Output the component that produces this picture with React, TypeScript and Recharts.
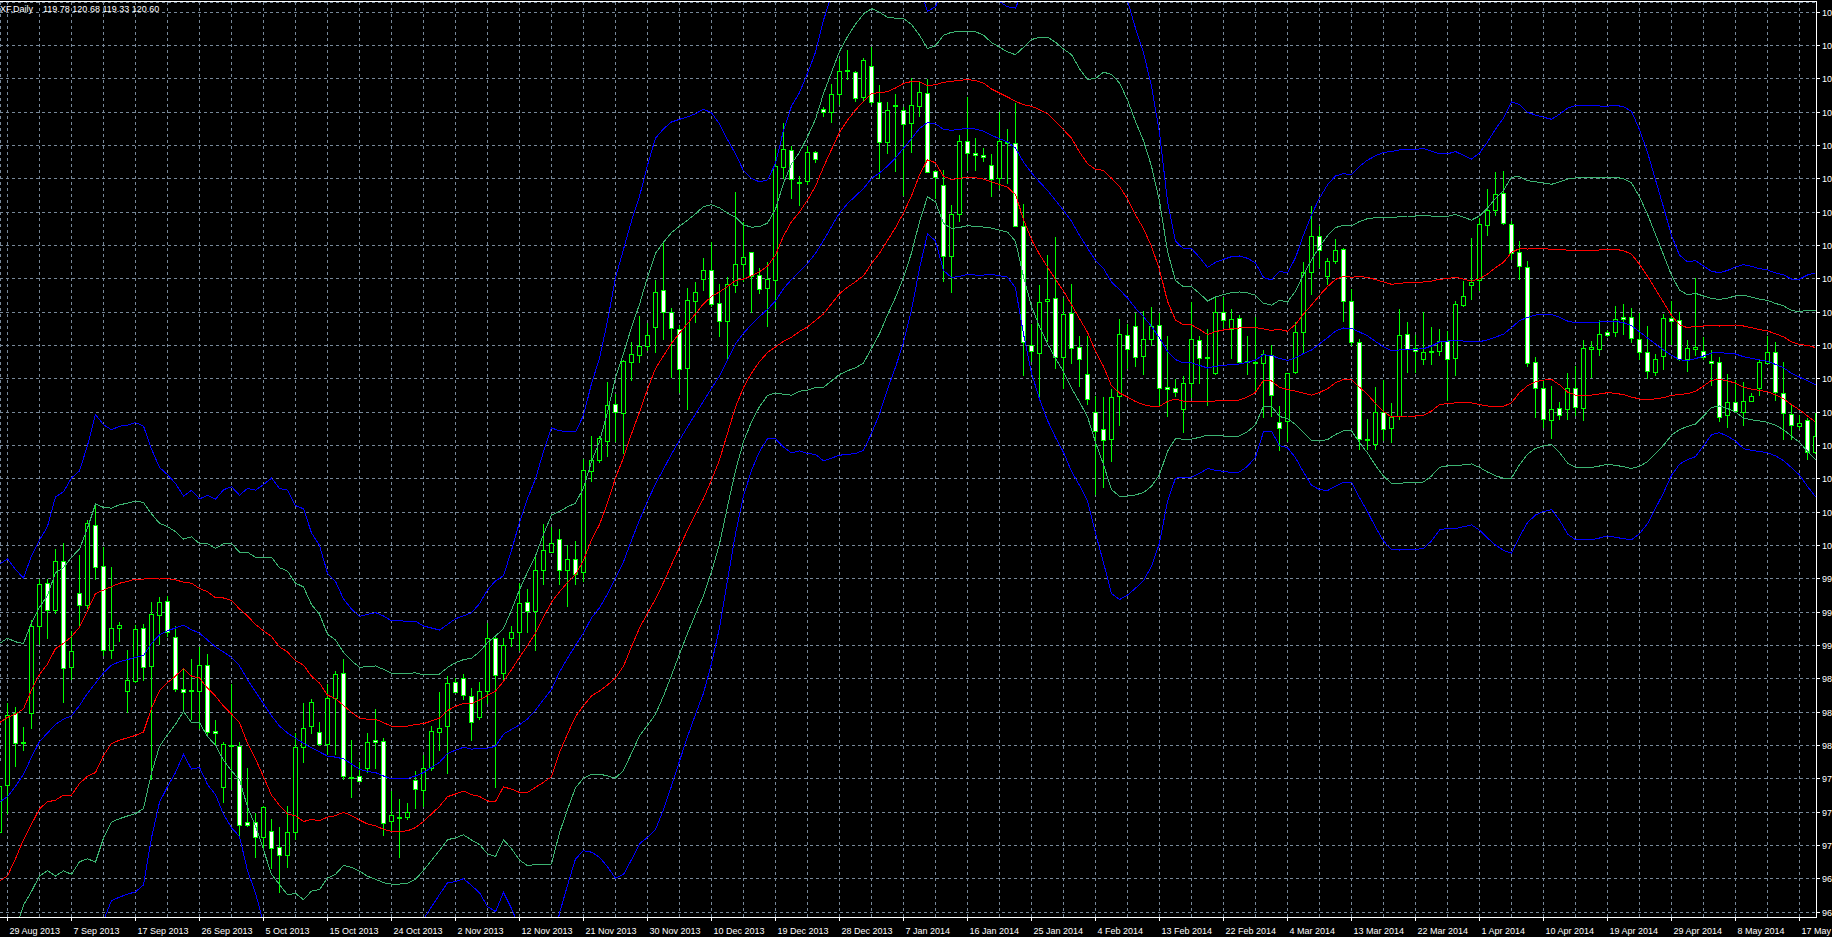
import React from 'react';
import { ComposedChart, Bar, Line, XAxis, YAxis, CartesianGrid } from 'recharts';

// ---- tick labels ----
const dateLabels = [
  '29 Aug 2013', '7 Sep 2013', '17 Sep 2013', '26 Sep 2013', '5 Oct 2013', '15 Oct 2013',
  '24 Oct 2013', '2 Nov 2013', '12 Nov 2013', '21 Nov 2013', '30 Nov 2013', '10 Dec 2013',
  '19 Dec 2013', '28 Dec 2013', '7 Jan 2014', '16 Jan 2014', '25 Jan 2014', '4 Feb 2014',
  '13 Feb 2014', '22 Feb 2014', '4 Mar 2014', '13 Mar 2014', '22 Mar 2014', '1 Apr 2014',
  '10 Apr 2014', '19 Apr 2014', '29 Apr 2014', '8 May 2014', '17 May 2014',
];
const labelBars = [0, 8, 16, 24, 32, 40, 48, 56, 64, 72, 80, 88, 96, 104, 112, 120, 128, 136, 144, 152, 160, 168, 176, 184, 192, 200, 208, 216, 224];
const gridBars = [0, 4, 8, 12, 16, 20, 24, 28, 32, 36, 40, 44, 48, 52, 56, 60, 64, 68, 72, 76, 80, 84, 88, 92, 96, 100, 104, 108, 112, 116, 120, 124, 128, 132, 136, 140, 144, 148, 152, 156, 160, 164, 168, 172, 176, 180, 184, 188, 192, 196, 200, 204, 208, 212, 216, 220, 224];
const priceTicks = [96.4, 96.75, 97.1, 97.45, 97.8, 98.15, 98.5, 98.85, 99.2, 99.55, 99.9, 100.25, 100.6, 100.95, 101.3, 101.65, 102.0, 102.35, 102.7, 103.05, 103.4, 103.75, 104.1, 104.45, 104.8, 105.15, 105.5, 105.85];

const FIRST_BAR = -1;

// ---- candles (daily OHLC) ----
const opens = [
  97.23, 97.73, 98.48, 98.18, 98.48, 99.40, 99.85, 99.57, 100.08, 98.97,
  99.74, 99.62, 100.46, 100.03, 99.15, 99.38, 98.72, 98.82, 99.38, 98.98,
  99.51, 99.66, 99.28, 98.74, 98.72, 98.72, 98.99, 98.30, 97.71, 98.15,
  98.14, 97.34, 97.34, 97.18, 97.25, 97.08, 96.99, 97.24, 98.13, 98.35,
  98.28, 98.16, 98.64, 98.90, 97.81, 97.82, 97.91, 98.20, 98.19, 97.35,
  97.39, 97.39, 97.78, 97.68, 97.91, 98.28, 98.35, 98.81, 98.85, 98.66,
  98.44, 98.72, 99.27, 98.90, 99.27, 99.33, 99.65, 99.56, 99.99, 100.18,
  100.31, 99.99, 100.10, 99.96, 101.03, 101.14, 101.34, 101.73, 101.63, 102.17,
  102.24, 102.34, 102.54, 102.93, 102.70, 102.52, 102.11, 102.81, 103.04, 103.14,
  102.79, 102.60, 102.98, 103.20, 103.32, 103.08, 102.95, 103.03, 104.22, 104.40,
  104.05, 104.07, 104.37, 104.83, 104.80, 104.98, 105.23, 105.21, 104.95, 105.28,
  104.90, 104.48, 104.86, 104.82, 104.68, 104.86, 104.99, 104.18, 104.03, 103.28,
  103.72, 104.49, 104.36, 104.34, 104.24, 104.10, 104.47, 104.47, 103.60, 102.35,
  102.26, 102.81, 102.84, 102.22, 102.68, 102.33, 102.04, 101.65, 101.47, 101.36,
  101.81, 102.45, 102.55, 102.23, 102.41, 102.56, 101.91, 101.90, 101.68, 101.95,
  102.40, 102.22, 102.05, 102.70, 102.52, 102.63, 102.17, 102.17, 102.16, 102.24,
  101.54, 101.55, 102.06, 102.48, 103.12, 103.49, 103.07, 103.23, 103.36, 102.81,
  102.38, 101.36, 101.31, 101.65, 101.48, 101.60, 102.46, 102.32, 102.20, 102.28,
  102.29, 102.39, 102.21, 102.77, 102.98, 103.03, 103.61, 103.77, 103.94, 103.62,
  103.32, 103.17, 102.17, 101.90, 101.56, 101.69, 101.68, 101.90, 101.69, 102.31,
  102.31, 102.48, 102.48, 102.64, 102.64, 102.41, 102.27, 102.07, 102.23, 102.63,
  102.61, 102.20, 102.31, 102.29, 102.18, 102.17, 101.61, 101.75, 101.65, 101.76,
  101.90, 102.16, 102.27, 101.84, 101.62, 101.50, 101.56, 101.22,
];
const highs = [
  97.76, 98.59, 98.55, 98.34, 99.47, 99.90, 99.90, 100.21, 100.27, 99.35,
  100.15, 100.52, 100.67, 100.23, 100.02, 99.44, 99.15, 99.41, 99.42, 99.66,
  99.71, 99.72, 99.40, 98.95, 99.06, 99.18, 99.11, 98.42, 98.19, 98.79,
  98.19, 97.91, 97.44, 97.51, 97.38, 97.29, 97.51, 98.28, 98.59, 98.64,
  98.40, 98.79, 98.93, 99.06, 98.21, 97.97, 98.28, 98.53, 98.23, 97.67,
  97.59, 97.54, 97.88, 98.05, 98.35, 98.71, 98.88, 98.86, 98.90, 98.75,
  98.81, 99.43, 99.31, 99.28, 99.40, 99.85, 99.79, 100.15, 100.47, 100.44,
  100.42, 100.25, 100.30, 101.16, 101.40, 101.40, 101.96, 101.84, 102.20, 102.39,
  102.66, 102.58, 103.04, 103.42, 102.74, 102.56, 102.95, 103.02, 103.27, 103.44,
  102.99, 103.07, 103.96, 103.64, 103.33, 103.16, 103.23, 104.41, 104.68, 104.44,
  104.13, 104.44, 104.39, 104.85, 105.09, 105.36, 105.45, 105.23, 105.37, 105.48,
  105.08, 104.90, 104.99, 104.85, 105.16, 105.11, 105.15, 104.19, 104.19, 103.82,
  104.56, 104.96, 104.53, 104.42, 104.36, 104.80, 104.62, 104.89, 103.83, 102.57,
  102.98, 103.30, 103.49, 102.85, 102.99, 102.45, 102.45, 101.82, 101.81, 101.89,
  102.63, 102.57, 102.69, 102.71, 102.75, 102.69, 102.45, 102.00, 102.03, 102.81,
  102.45, 102.52, 102.86, 102.86, 102.73, 102.67, 102.45, 102.65, 102.30, 102.35,
  101.71, 102.06, 102.60, 103.22, 103.81, 103.60, 103.27, 103.47, 103.37, 102.94,
  102.42, 101.58, 101.91, 101.99, 101.74, 102.73, 102.59, 102.46, 102.70, 102.54,
  102.52, 102.50, 102.82, 103.03, 103.48, 103.69, 103.99, 104.17, 104.18, 103.66,
  103.45, 103.24, 102.23, 101.99, 101.92, 101.75, 102.06, 102.13, 102.41, 102.40,
  102.62, 102.51, 102.76, 102.78, 102.74, 102.69, 102.55, 102.26, 102.68, 102.82,
  102.70, 102.41, 103.06, 102.44, 102.30, 102.23, 102.05, 101.99, 101.96, 101.85,
  102.20, 102.45, 102.39, 102.18, 101.73, 101.62, 101.59, 101.64,
];
const lows = [
  97.21, 97.43, 97.92, 98.09, 98.32, 99.20, 99.27, 99.53, 98.59, 98.84,
  99.38, 99.58, 99.89, 99.09, 99.06, 99.24, 98.49, 98.80, 98.83, 97.79,
  99.20, 99.29, 98.71, 98.50, 98.42, 98.32, 98.24, 98.15, 97.54, 97.68,
  97.18, 97.29, 96.97, 97.07, 96.85, 96.60, 96.86, 97.16, 97.96, 98.27,
  98.14, 98.05, 98.05, 97.79, 97.60, 97.76, 97.86, 97.90, 97.20, 97.25,
  96.97, 97.37, 97.48, 97.50, 97.88, 98.09, 97.85, 98.70, 98.63, 98.20,
  98.42, 98.58, 97.70, 98.82, 99.18, 99.14, 99.33, 99.14, 99.83, 100.17,
  99.83, 99.60, 99.83, 99.87, 100.92, 101.11, 101.18, 101.33, 101.21, 101.98,
  102.16, 102.29, 102.27, 102.41, 102.01, 101.85, 101.67, 102.58, 102.92, 102.75,
  102.44, 102.20, 102.90, 103.02, 102.69, 102.89, 102.54, 102.73, 104.10, 103.89,
  103.81, 104.03, 104.26, 104.75, 104.68, 104.87, 105.14, 104.90, 104.92, 104.87,
  104.10, 104.36, 104.17, 103.92, 104.37, 104.75, 104.16, 103.89, 103.02, 102.90,
  103.64, 104.18, 104.18, 104.28, 103.91, 103.99, 104.04, 103.59, 102.03, 102.17,
  101.79, 102.38, 102.10, 101.89, 102.15, 101.91, 101.72, 100.78, 100.85, 101.13,
  101.50, 102.10, 102.12, 102.04, 102.34, 101.71, 101.60, 101.81, 101.43, 101.80,
  101.94, 101.71, 102.04, 102.53, 102.21, 102.15, 102.04, 101.87, 101.59, 101.60,
  101.24, 101.34, 102.05, 102.27, 102.88, 103.16, 102.98, 103.20, 102.59, 102.34,
  101.25, 101.25, 101.25, 101.35, 101.32, 101.57, 102.06, 102.06, 102.14, 102.14,
  102.24, 101.77, 102.03, 102.75, 102.83, 102.92, 103.50, 103.71, 103.61, 103.25,
  103.04, 102.12, 101.59, 101.48, 101.37, 101.57, 101.57, 101.61, 101.56, 102.01,
  102.24, 102.44, 102.44, 102.46, 102.37, 102.20, 102.00, 102.03, 102.09, 102.35,
  102.19, 102.07, 102.24, 102.20, 101.92, 101.55, 101.48, 101.64, 101.50, 101.75,
  101.82, 102.15, 101.77, 101.36, 101.36, 101.47, 101.15, 101.21,
];
const closes = [
  97.72, 98.46, 98.17, 98.17, 99.40, 99.84, 99.57, 100.08, 98.96, 99.14,
  99.62, 100.48, 100.02, 99.15, 99.38, 99.41, 98.83, 99.37, 98.97, 99.52,
  99.65, 99.33, 98.74, 98.71, 98.73, 98.99, 98.28, 98.27, 98.16, 98.14,
  97.31, 97.31, 97.18, 97.50, 97.07, 96.99, 97.23, 98.13, 98.33, 98.60,
  98.16, 98.64, 98.89, 97.82, 97.80, 97.77, 98.18, 98.18, 97.33, 97.41,
  97.38, 97.44, 97.69, 97.91, 98.30, 98.33, 98.80, 98.71, 98.67, 98.39,
  98.72, 99.27, 98.88, 99.20, 99.34, 99.64, 99.56, 99.99, 100.20, 100.27,
  99.99, 100.10, 99.94, 101.04, 101.14, 101.37, 101.72, 101.64, 102.18, 102.25,
  102.34, 102.45, 102.90, 102.70, 102.53, 102.10, 102.82, 102.91, 103.14, 102.78,
  102.60, 102.99, 103.20, 103.27, 103.07, 102.94, 103.04, 104.23, 104.41, 104.09,
  104.06, 104.37, 104.30, 104.79, 104.98, 105.23, 105.24, 104.94, 105.34, 104.90,
  104.48, 104.82, 104.87, 104.67, 104.87, 105.00, 104.17, 104.11, 103.28, 103.72,
  104.49, 104.36, 104.34, 104.32, 104.09, 104.49, 104.48, 103.60, 102.38, 102.29,
  102.80, 102.83, 102.22, 102.67, 102.32, 102.20, 101.78, 101.45, 101.35, 101.80,
  102.46, 102.31, 102.22, 102.41, 102.55, 101.90, 101.89, 101.85, 101.95, 102.41,
  102.21, 102.21, 102.70, 102.61, 102.62, 102.17, 102.18, 102.16, 102.25, 101.82,
  101.48, 102.05, 102.48, 103.12, 103.49, 103.35, 103.23, 103.35, 102.81, 102.38,
  101.36, 101.35, 101.65, 101.47, 101.59, 102.45, 102.31, 102.29, 102.28, 102.29,
  102.39, 102.20, 102.78, 102.86, 103.01, 103.62, 103.77, 103.93, 103.63, 103.31,
  103.18, 102.16, 101.90, 101.57, 101.68, 101.61, 101.90, 101.70, 102.32, 102.33,
  102.46, 102.45, 102.62, 102.62, 102.42, 102.27, 102.08, 102.20, 102.63, 102.60,
  102.20, 102.32, 102.33, 102.22, 102.16, 101.59, 101.75, 101.66, 101.76, 101.81,
  102.17, 102.27, 101.85, 101.63, 101.51, 101.53, 101.22, 101.39,
];

// ---- Bollinger indicator: middle line and band width (one standard deviation) ----
const maValues = [
  97.556, 97.611, 97.719, 97.846, 98.026, 98.189, 98.280, 98.370, 98.424, 98.460,
  98.569, 98.695, 98.804, 98.912, 98.992, 99.028, 99.050, 99.075, 99.093, 99.220,
  99.310, 99.354, 99.382, 99.411, 99.364, 99.328, 99.256, 99.184, 99.129, 99.075,
  98.985, 98.840, 98.714, 98.587, 98.460, 98.352, 98.280, 98.225, 98.171, 98.124,
  98.081, 98.037, 98.026, 98.008, 97.954, 97.900, 97.875, 97.864, 97.828, 97.799,
  97.799, 97.802, 97.828, 97.864, 97.918, 97.972, 98.063, 98.099, 98.130, 98.110,
  98.120, 98.120, 98.140, 98.268, 98.317, 98.365, 98.427, 98.519, 98.630, 98.736,
  98.919, 99.064, 99.199, 99.329, 99.488, 99.594, 99.739, 99.907, 100.076, 100.303,
  100.515, 100.713, 100.896, 101.050, 101.209, 101.354, 101.494, 101.629, 101.764, 101.899,
  102.029, 102.197, 102.366, 102.477, 102.569, 102.651, 102.728, 102.815, 102.945, 103.041,
  103.123, 103.210, 103.316, 103.451, 103.596, 103.740, 103.837, 103.919, 103.996, 104.102,
  104.160, 104.232, 104.319, 104.420, 104.520, 104.627, 104.688, 104.677, 104.618, 104.607,
  104.618, 104.628, 104.621, 104.600, 104.555, 104.520, 104.485, 104.422, 104.275, 104.160,
  104.065, 103.977, 103.872, 103.767, 103.652, 103.505, 103.372, 103.242, 103.158, 103.015,
  102.935, 102.847, 102.740, 102.651, 102.550, 102.427, 102.287, 102.200, 102.165, 102.165,
  102.140, 102.112, 102.130, 102.140, 102.147, 102.154, 102.172, 102.196, 102.252, 102.242,
  102.213, 102.192, 102.220, 102.264, 102.300, 102.365, 102.430, 102.500, 102.532, 102.528,
  102.490, 102.450, 102.390, 102.336, 102.294, 102.301, 102.308, 102.308, 102.315, 102.343,
  102.385, 102.395, 102.405, 102.395, 102.385, 102.389, 102.406, 102.437, 102.466, 102.536,
  102.609, 102.643, 102.668, 102.675, 102.675, 102.646, 102.605, 102.588, 102.588, 102.588,
  102.595, 102.605, 102.602, 102.588, 102.557, 102.494, 102.427, 102.364, 102.301, 102.245,
  102.199, 102.189, 102.210, 102.238, 102.269, 102.273, 102.266, 102.259, 102.231, 102.213,
  102.196, 102.182, 102.150, 102.115, 102.056, 102.017, 101.979, 101.935,
];
const devValues = [
  0.832, 0.832, 0.759, 0.687, 0.705, 0.705, 0.723, 0.796, 0.796, 0.832,
  0.821, 0.868, 0.940, 0.868, 0.824, 0.824, 0.821, 0.821, 0.803, 0.680,
  0.586, 0.546, 0.506, 0.452, 0.488, 0.470, 0.506, 0.517, 0.568, 0.597,
  0.597, 0.669, 0.705, 0.767, 0.832, 0.832, 0.850, 0.814, 0.821, 0.752,
  0.723, 0.640, 0.615, 0.560, 0.542, 0.535, 0.550, 0.560, 0.560, 0.553,
  0.553, 0.550, 0.542, 0.513, 0.488, 0.463, 0.452, 0.460, 0.460, 0.477,
  0.506, 0.554, 0.579, 0.554, 0.627, 0.709, 0.771, 0.810, 0.868, 0.916,
  0.844, 0.795, 0.747, 0.762, 0.820, 0.873, 0.955, 1.051, 1.094, 1.118,
  1.133, 1.176, 1.210, 1.191, 1.162, 1.123, 1.085, 1.051, 1.022, 0.964,
  0.882, 0.771, 0.665, 0.569, 0.511, 0.472, 0.453, 0.482, 0.554, 0.607,
  0.627, 0.665, 0.704, 0.771, 0.810, 0.848, 0.877, 0.902, 0.916, 0.892,
  0.844, 0.781, 0.733, 0.680, 0.600, 0.490, 0.389, 0.410, 0.494, 0.515,
  0.515, 0.511, 0.511, 0.504, 0.487, 0.480, 0.473, 0.490, 0.602, 0.700,
  0.760, 0.805, 0.830, 0.847, 0.875, 0.875, 0.885, 0.955, 1.030, 1.090,
  1.085, 1.040, 0.980, 0.924, 0.840, 0.718, 0.525, 0.415, 0.400, 0.400,
  0.378, 0.352, 0.364, 0.371, 0.378, 0.378, 0.364, 0.340, 0.270, 0.265,
  0.305, 0.306, 0.350, 0.415, 0.473, 0.510, 0.535, 0.543, 0.540, 0.538,
  0.580, 0.615, 0.650, 0.680, 0.697, 0.700, 0.700, 0.700, 0.700, 0.682,
  0.658, 0.655, 0.660, 0.650, 0.640, 0.660, 0.693, 0.728, 0.756, 0.790,
  0.756, 0.718, 0.700, 0.690, 0.683, 0.710, 0.745, 0.760, 0.760, 0.760,
  0.756, 0.752, 0.756, 0.756, 0.750, 0.707, 0.650, 0.575, 0.500, 0.420,
  0.366, 0.346, 0.343, 0.315, 0.286, 0.280, 0.290, 0.305, 0.322, 0.322,
  0.320, 0.320, 0.320, 0.325, 0.330, 0.343, 0.370, 0.392,
];

const data = opens.map((o, i) => {
  const mid = maValues[i];
  const sd = devValues[i];
  return {
    bar: i + FIRST_BAR,
    open: o,
    high: highs[i],
    low: lows[i],
    close: closes[i],
    range: [lows[i], highs[i]],
    mid,
    up1: mid + sd,
    dn1: mid - sd,
    up2: mid + 2 * sd,
    dn2: mid - 2 * sd,
    up3: mid + 3 * sd,
    dn3: mid - 3 * sd,
  };
});

const FONT = '"Liberation Sans", Arial, sans-serif';
const CANDLE = '#00ff00';

const Candle = (props: any) => {
  const { x, y, width, height, payload } = props;
  if (!payload || height == null || isNaN(height)) return <g />;
  const { open, close, high, low } = payload;
  const cx = x + width / 2;
  const k = high > low ? height / (high - low) : 0;
  const py = (p: number) => y + (high - p) * k;
  const top = py(Math.max(open, close));
  const bot = py(Math.min(open, close));
  const bull = close >= open;
  return (
    <g shapeRendering="crispEdges">
      <line x1={cx} x2={cx} y1={y} y2={y + height} stroke={CANDLE} strokeWidth={1} />
      <rect x={cx - 2} y={top} width={4} height={Math.max(bot - top, 0)} fill={bull ? '#000000' : '#ffffff'} stroke={CANDLE} strokeWidth={1} />
    </g>
  );
};

const DateTick = (props: any) => {
  const { x, payload } = props;
  const idx = labelBars.indexOf(payload.value);
  if (idx < 0) return <g />;
  return (
    <g>
      <line x1={x} x2={x} y1={917} y2={921} stroke="#ffffff" strokeWidth={1} shapeRendering="crispEdges" />
      <text x={x + 2} y={934} fill="#ffffff" fontSize={9} fontFamily={FONT}>{dateLabels[idx]}</text>
    </g>
  );
};

const PriceTick = (props: any) => {
  const { y, payload } = props;
  return (
    <g>
      <line x1={1816} x2={1820} y1={y} y2={y} stroke="#ffffff" strokeWidth={1} shapeRendering="crispEdges" />
      <text x={1822} y={y + 3.5} fill="#ffffff" fontSize={9} fontFamily={FONT}>{Number(payload.value).toFixed(2)}</text>
    </g>
  );
};

const lineProps = { dot: false, activeDot: false, isAnimationActive: false, strokeWidth: 1, type: 'linear' as const, shapeRendering: 'crispEdges' };

export default function App() {
  return (
    <div style={{ position: 'absolute', left: 0, top: 0, width: 1832, height: 937, overflow: 'hidden', background: '#000000', fontFamily: FONT }}>
      <ComposedChart width={1880} height={937} data={data} margin={{ top: 2, right: 0, bottom: 0, left: 0 }}>
        <CartesianGrid stroke="#778899" strokeDasharray="3 3" shapeRendering="crispEdges" />
        <XAxis
          dataKey="bar"
          type="number"
          domain={[-0.9375, 226.0625]}
          allowDataOverflow
          ticks={gridBars}
          interval={0}
          tick={<DateTick />}
          tickLine={false}
          axisLine={false}
          height={20}
        />
        <YAxis
          orientation="right"
          type="number"
          domain={[96.3475, 105.955]}
          allowDataOverflow
          ticks={priceTicks}
          interval={0}
          tick={<PriceTick />}
          tickLine={false}
          axisLine={false}
          width={64}
        />
        <Bar dataKey="range" barSize={5} shape={<Candle />} isAnimationActive={false} />
        <Line dataKey="up3" stroke="#0000ff" {...lineProps} />
        <Line dataKey="dn3" stroke="#0000ff" {...lineProps} />
        <Line dataKey="up2" stroke="#3cb371" {...lineProps} />
        <Line dataKey="dn2" stroke="#3cb371" {...lineProps} />
        <Line dataKey="up1" stroke="#ff0000" {...lineProps} />
        <Line dataKey="dn1" stroke="#ff0000" {...lineProps} />
        <Line dataKey="mid" stroke="#0000ff" {...lineProps} />
      </ComposedChart>
      <div style={{ position: 'absolute', left: 0, top: 1, width: 1817, height: 1, background: '#ffffff' }} />
      <div style={{ position: 'absolute', left: 1816, top: 1, width: 1, height: 917, background: '#ffffff' }} />
      <div style={{ position: 'absolute', left: 0, top: 917, width: 1817, height: 1, background: '#ffffff' }} />
      <div style={{ position: 'absolute', left: 0, top: 3, fontSize: 9, color: '#ffffff', whiteSpace: 'pre', lineHeight: '12px' }}>XF,Daily</div>
      <div style={{ position: 'absolute', left: 43, top: 3, fontSize: 9, color: '#ffffff', whiteSpace: 'pre', lineHeight: '12px' }}>119.78 120.68 119.33 120.60</div>
    </div>
  );
}
